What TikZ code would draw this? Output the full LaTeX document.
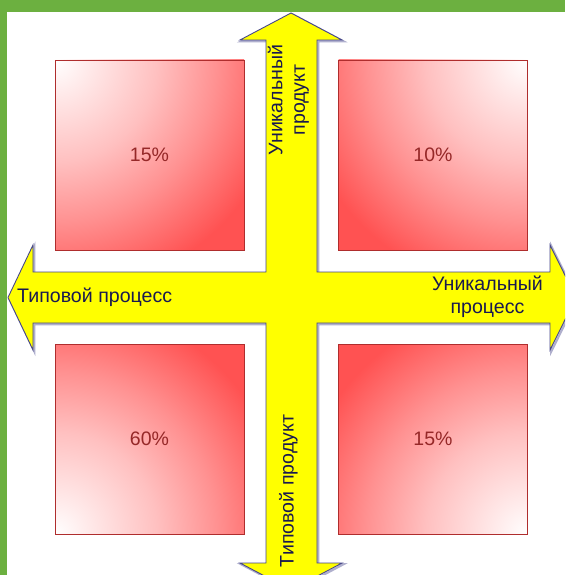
\documentclass[tikz,border=0pt]{standalone}
\usepackage{fontspec}
\newfontfamily\arialf{Liberation Sans}
\definecolor{sqred}{RGB}{255,82,82}
\definecolor{sqmid}{RGB}{255,145,145}
\definecolor{sqlight}{RGB}{255,192,192}
\definecolor{sqpale}{RGB}{255,236,236}
\definecolor{sqborder}{RGB}{175,45,45}
\definecolor{sqtext}{RGB}{150,40,40}
\definecolor{arrowfill}{RGB}{255,255,0}
\definecolor{arrowline}{RGB}{70,70,140}
\definecolor{arrowshadow}{RGB}{175,175,205}
\definecolor{atextcol}{RGB}{25,25,80}
\definecolor{bandgreen}{RGB}{108,176,64}
\pgfdeclareradialshading{cornerglow}{\pgfpoint{0bp}{0bp}}{%
  color(0bp)=(white); color(2.5bp)=(sqpale); color(8.5bp)=(sqlight);
  color(13.5bp)=(sqmid); color(19.5bp)=(sqred); color(50bp)=(sqred)}
\tikzset{
  sqbox/.style={draw=sqborder, line width=0.8pt, minimum width=189pt, minimum height=190pt,
    inner sep=0pt, outer sep=0pt, text=sqtext, font=\arialf\fontsize{19.5}{23}\selectfont,
    path picture={\shade[shading=cornerglow] (path picture bounding box.#1) circle (300pt);}},
  atext/.style={text=atextcol, font=\arialf\fontsize{19.6}{22.5}\selectfont, inner sep=0pt, align=center},
  crossfill/.style={fill=arrowfill, draw=arrowline, line width=0.9pt, line join=miter},
  crossshadow/.style={draw=arrowshadow, line width=2.2pt}
}
\begin{document}
\begin{tikzpicture}[x=1pt,y=-1pt]
\useasboundingbox (0,0) rectangle (565,575);
\clip (0,0) rectangle (565,575);
\fill[white] (0,0) rectangle (565,575);
\fill[bandgreen] (0,0) rectangle (565,12.5);
\fill[bandgreen] (0,0) rectangle (7,575);

% squares
\node[sqbox=north west] (tl) at (149.5,155) {15\%};
\node[sqbox=north east] (tr) at (433,155) {10\%};
\node[sqbox=south west] (bl) at (149.5,439) {60\%};
\node[sqbox=south east] (br) at (433,439) {15\%};

% cross-shaped double arrow
\def\crosspath{(291,13) -- (342,40) -- (317,40) -- (317,272) -- (550,272) -- (550,245) -- (576,297.5) -- (550,350) -- (550,323) -- (317,323) -- (317,563) -- (342,563) -- (291,590) -- (240,563) -- (266,563) -- (266,323) -- (33,323) -- (33,350) -- (8,297.5) -- (33,245) -- (33,272) -- (266,272) -- (266,40) -- (240,40) -- cycle}
\draw[crossshadow, shift={(1.3,1.3)}] \crosspath;
\filldraw[crossfill] \crosspath;

% labels
\node[atext, anchor=base west] (tproc) at (17,302) {Типовой процесс};
\node[atext] (uproc) at (487.5,297) {Уникальный\\процесс};
\node[atext, rotate=90] (uprod) at (288.5,100) {Уникальный\\продукт};
\node[atext, rotate=90] (tprod) at (288.5,491) {Типовой продукт};
\end{tikzpicture}
\end{document}
